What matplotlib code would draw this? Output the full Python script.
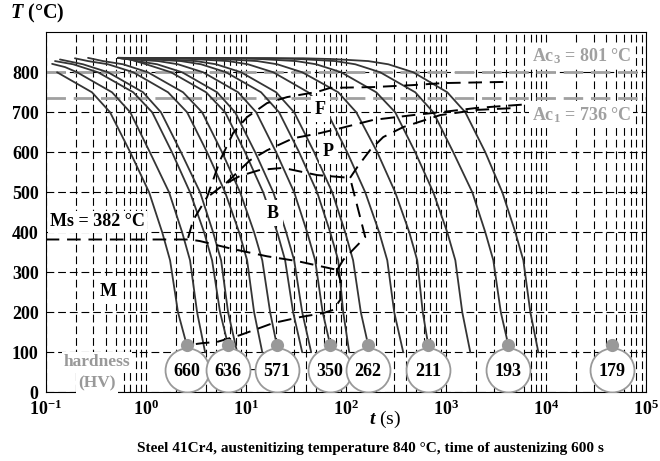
import numpy as np
import matplotlib
matplotlib.use("Agg")
import matplotlib.pyplot as plt

plt.rcParams['font.family'] = ['Liberation Serif', 'DejaVu Serif']
plt.rcParams['font.weight'] = 'bold'
plt.rcParams['mathtext.fontset'] = 'custom'
plt.rcParams['mathtext.rm'] = 'Liberation Serif:bold'
plt.rcParams['mathtext.bf'] = 'Liberation Serif:bold'
plt.rcParams['mathtext.it'] = 'Liberation Serif:bold:italic'

# cooling curves: time (s) and temperature (degC)
c1_t = [0.13, 0.29, 0.44, 0.70, 1.08, 1.46, 1.75, 2.10, 2.57]
c1_T = [800, 750, 700, 600, 500, 400, 330, 200, 118]
c2_t = [0.116, 0.156, 0.206, 0.46, 0.70, 1.10, 1.71, 2.31, 2.77, 3.26, 3.92]
c2_T = [821, 813, 800, 750, 700, 600, 500, 400, 330, 200, 100]
c3_t = [0.124, 0.188, 0.333, 0.75, 1.16, 1.83, 2.77, 3.83, 4.60, 5.53, 6.65]
c3_T = [828, 820, 800, 750, 700, 600, 500, 400, 330, 200, 118]
c4_t = [0.139, 0.236, 0.42, 0.94, 1.42, 2.25, 3.49, 4.71, 5.66, 6.65, 8.19]
c4_T = [832, 820, 800, 750, 700, 600, 500, 400, 330, 200, 100]
c5_t = [0.196, 0.265, 0.42, 0.75, 1.67, 2.59, 4.10, 6.21, 8.57, 10.3, 12.1, 14.6]
c5_T = [835, 828, 820, 800, 750, 700, 600, 500, 400, 330, 200, 100]
c6_t = [0.265, 0.374, 0.593, 1.05, 2.36, 3.66, 5.79, 8.77, 12.1, 14.6, 17.5, 20.4]
c6_T = [836, 828, 820, 800, 750, 700, 600, 500, 400, 330, 200, 118]
c7_t = [0.53, 0.70, 1.01, 1.79, 4.01, 6.21, 9.84, 14.9, 20.6, 24.7, 29.7, 36.6]
c7_T = [836, 832, 820, 800, 750, 700, 600, 500, 400, 330, 200, 100]
c8_t = [0.53, 0.67, 0.82, 1.30, 2.31, 5.16, 7.82, 12.4, 18.8, 25.3, 30.4, 36.6, 45.0]
c8_T = [836, 833, 828, 820, 800, 750, 700, 600, 500, 400, 330, 200, 100]
c9_t = [0.53, 0.64, 1.33, 2.10, 3.74, 8.38, 12.7, 20.1, 30.4, 41.0, 49.3, 58.6, 69.7]
c9_T = [836, 833, 828, 820, 800, 750, 700, 600, 500, 400, 330, 200, 118]
c10_t = [0.53, 1.01, 2.25, 3.57, 6.35, 14.2, 21.5, 34.1, 51.6, 69.7, 83.8, 94.0, 108]
c10_T = [836, 833, 828, 820, 800, 750, 700, 600, 500, 400, 330, 200, 100]
c11_t = [0.53, 0.71, 1.42, 3.18, 5.05, 8.97, 20.1, 30.4, 48.2, 73.0, 98.4, 118, 141, 167]
c11_T = [836, 835, 833, 828, 820, 800, 750, 700, 600, 500, 400, 330, 200, 118]
c12_t = [0.53, 1.49, 2.97, 6.65, 10.5, 18.8, 42.0, 65.0, 103, 156, 215, 259, 304, 374]
c12_T = [836, 835, 833, 828, 820, 800, 750, 700, 600, 500, 400, 330, 200, 100]
c13_t = [0.53, 2.90, 5.79, 13.0, 20.6, 36.6, 83.8, 127, 206, 311, 430, 516, 586, 665]
c13_T = [836, 835, 833, 828, 820, 800, 750, 700, 600, 500, 400, 330, 200, 118]
c14_t = [0.53, 7.13, 14.2, 31.8, 50.5, 89.7, 201, 311, 493, 747, 1030, 1240, 1455, 1750]
c14_T = [836, 835, 833, 828, 820, 800, 750, 700, 600, 500, 400, 330, 200, 100]
c15_t = [0.53, 17.5, 34.9, 78.2, 124, 220, 493, 747, 1183, 1832, 2472, 2972, 3532, 4198]
c15_T = [836, 835, 833, 828, 820, 800, 750, 700, 600, 500, 400, 330, 200, 118]
c16_t = [0.53, 37.4, 74.7, 167, 265, 471, 1030, 1560, 2472, 3656, 4932, 5929, 6966, 8375]
c16_T = [836, 835, 833, 828, 820, 800, 750, 700, 600, 500, 400, 330, 200, 100]

curves = [(c1_t, c1_T), (c2_t, c2_T), (c3_t, c3_T), (c4_t, c4_T), (c5_t, c5_T),
          (c6_t, c6_T), (c7_t, c7_T), (c8_t, c8_T), (c9_t, c9_T), (c10_t, c10_T),
          (c11_t, c11_T), (c12_t, c12_T), (c13_t, c13_T), (c14_t, c14_T),
          (c15_t, c15_T), (c16_t, c16_T)]

# transformation lines
ms_t = [0.1, 2.77, 3.49, 7.46, 16.3, 32.6, 81.8]
ms_T = [382, 382, 378, 358, 340, 328, 306]
low_t = [81.8, 87.7, 87.7, 74.6, 59.3, 34.9, 18.7, 8.77, 5.16, 3.7, 2.3]
low_T = [306, 281, 231, 206, 198, 188, 173, 143, 126, 123, 116]
right_t = [81.8, 94.0, 156, 110]
right_T = [306, 331, 388, 536]
fs_t = [2.65, 2.97, 4.10, 5.53, 7.46, 10.3, 16.3, 25.9, 51.6, 69.7, 188, 471, 940, 4100]
fs_T = [386, 430, 488, 580, 648, 688, 723, 738, 751, 761, 763, 768, 773, 776]
bs_t = [4.40, 5.93, 8.77, 13.9, 23.6, 51.6, 110]
bs_T = [493, 518, 541, 556, 561, 543, 536]
ps_t = [6.35, 11.0, 16.3, 29.7, 55.3, 87.7, 188, 471, 940, 2056, 6500]
ps_T = [523, 580, 605, 635, 648, 660, 681, 693, 701, 711, 720]
pf_t = [110, 130, 175, 236, 374, 877, 2056, 5160]
pf_T = [536, 563, 606, 638, 663, 693, 706, 711]

ac3 = 801
ac1 = 736
ms = 382

hv_vals = [660, 636, 571, 350, 262, 211, 193, 179]
hv_t = [2.57, 6.65, 20.4, 69.7, 167, 665, 4198, 46000]

fig = plt.figure(figsize=(6.6, 4.61), dpi=100)
ax = fig.add_axes([0.0692, 0.149, 0.9098, 0.781])
ax.set_xscale('log')
ax.set_xlim(0.1, 1e5)
ax.set_ylim(0, 900)

ax.grid(True, which='both', axis='x', color='black', linestyle=(0, (7, 3.5)), lw=0.8)
ax.grid(True, which='major', axis='y', color='black', linestyle=(0, (7, 3.5)), lw=0.8)
ax.set_yticks(range(0, 900, 100))
ax.tick_params(length=0, labelsize=13, pad=5)
ax.tick_params(axis='x', which='minor', length=0)
ax.set_xticks([1e-1, 1, 10, 100, 1e3, 1e4, 1e5])
ax.set_xticklabels([r'$10^{-1}$', r'$10^{0}$', r'$10^{1}$', r'$10^{2}$',
                    r'$10^{3}$', r'$10^{4}$', r'$10^{5}$'])

for tt, TT in curves:
    ax.plot(tt, TT, color='#353535', lw=1.3, zorder=3, solid_capstyle='round')

dash = dict(color='black', lw=1.4, linestyle=(0, (7, 4)), zorder=3)
for tt, TT in [(ms_t, ms_T), (low_t, low_T), (right_t, right_T), (fs_t, fs_T),
               (bs_t, bs_T), (ps_t, ps_T), (pf_t, pf_T)]:
    ax.plot(tt, TT, **dash)

ax.axhline(ac3, color='#a0a0a0', lw=2, linestyle=(0, (7, 2.8)), zorder=2)
ax.axhline(ac1, color='#a0a0a0', lw=2, linestyle=(0, (7, 2.8)), zorder=2)

wb = dict(fc='white', ec='none', pad=1.5)
ax.text(0.975, 840, f'Ac$_3$ = {ac3} °C', transform=ax.get_yaxis_transform(), ha='right',
        va='center', color='#a0a0a0', fontsize=13, bbox=wb, zorder=4)
ax.text(0.975, 694, f'Ac$_1$ = {ac1} °C', transform=ax.get_yaxis_transform(), ha='right',
        va='center', color='#a0a0a0', fontsize=13, bbox=wb, zorder=4)

labels = [('F', 55.3, 708), ('P', 66.5, 603), ('B', 18.7, 448), ('M', 0.42, 253)]
for s_, tx, ty in labels:
    ax.text(tx, ty, s_, ha='center', va='center', fontsize=13,
            bbox=dict(fc='white', ec='none', pad=3), zorder=4)
ax.text(0.11, 426, f'Ms = {ms} °C', ha='left', va='center', fontsize=13, bbox=wb, zorder=4)
ax.text(0.326, 76, 'hardness', ha='center', va='center', fontsize=12.5, color='#999999', bbox=wb, zorder=4)
ax.text(0.326, 22, '(HV)', ha='center', va='center', fontsize=12.5, color='#999999', bbox=wb, zorder=4)

ax.scatter(hv_t, [55] * len(hv_t), s=1000, facecolor='white', edgecolor='#999999', lw=1.3, zorder=5)
ax.scatter(hv_t, [118] * len(hv_t), s=90, color='#999999', lw=0, zorder=6)
for t, v in zip(hv_t, hv_vals):
    ax.text(t, 53, str(v), ha='center', va='center', fontsize=13, zorder=7)
ax.text(np.sqrt(hv_t[1] * hv_t[2]), 53, '-', ha='center', va='center', fontsize=12, zorder=4)
ax.text(np.sqrt(hv_t[3] * hv_t[4]), 53, '-', ha='center', va='center', fontsize=12, zorder=4)

fig.text(37 / 660, 1 - 13 / 461, '$T$ (°C)', ha='center', va='center', fontsize=14.5)
ax.set_xlabel('$t$ (s)', fontsize=14)
ax.xaxis.set_label_coords(0.566, -0.045)
fig.text(0.562, 0.028, 'Steel 41Cr4, austenitizing temperature 840 °C, time of austenizing 600 s',
         ha='center', va='center', fontsize=11)

fig.savefig('out.png', dpi=100)
